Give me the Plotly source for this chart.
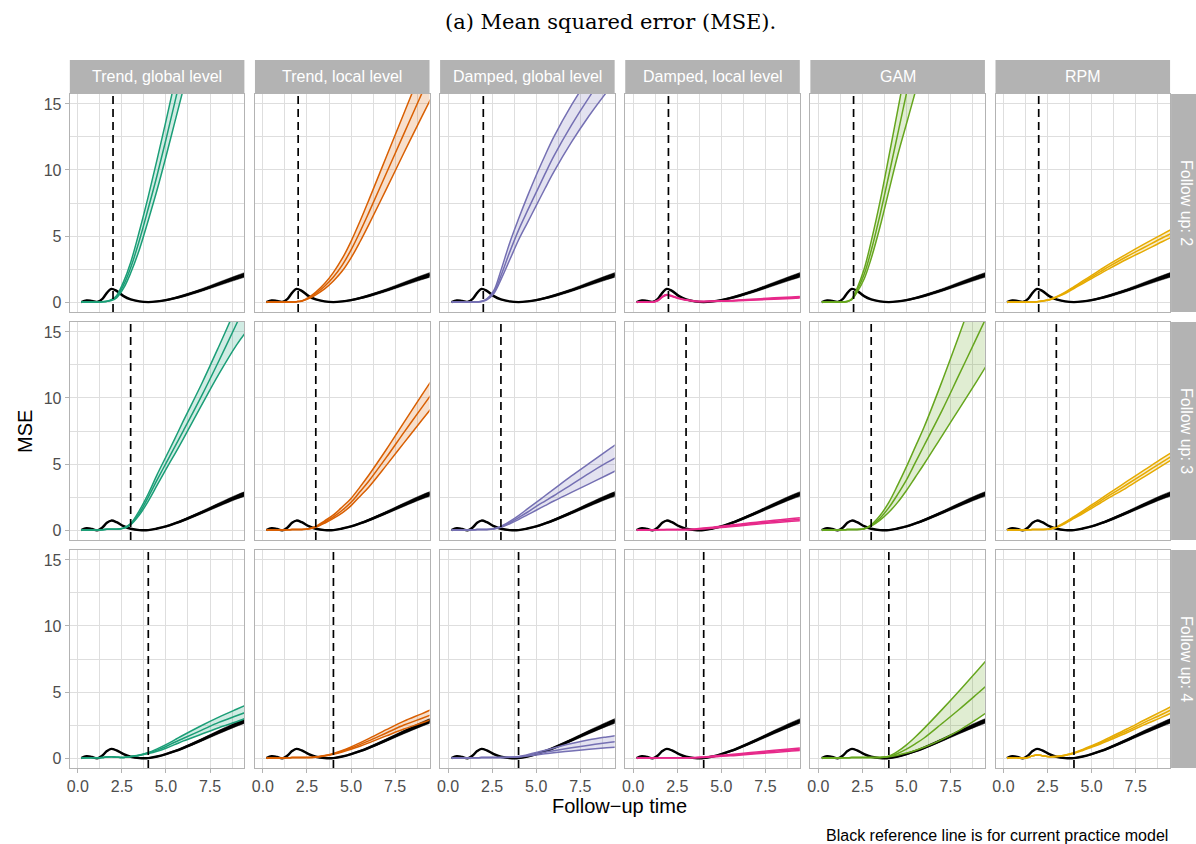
import plotly.graph_objects as go

# ---------------- data ----------------
time_grid = [0.2, 0.5, 0.8, 1.1, 1.4, 1.65, 1.9, 2.2, 2.6, 3.0, 3.5, 4.0, 4.5, 5.0, 5.5, 6.0, 7.0, 8.0, 9.0, 9.6]
model_names = ["Trend, global level", "Trend, local level", "Damped, global level",
               "Damped, local level", "GAM", "RPM"]
model_colors = ["#1B9E77", "#D95F02", "#7570B3", "#E7298A", "#66A61E", "#E6AB02"]
followups = [2, 3, 4]
x_ticks = [0, 2.5, 5, 7.5]
x_tick_labels = ["0.0", "2.5", "5.0", "7.5"]
y_ticks = [0, 5, 10, 15]
y_tick_labels = ["0", "5", "10", "15"]

# current practice (black reference) curves
ref_fu2_lo = [-0.02, 0.10, 0.06, 0.0, 0.23, 0.68, 0.98, 0.83, 0.43, 0.18, 0.03, -0.02, 0.02, 0.10, 0.24, 0.40, 0.80, 1.25, 1.69, 1.94]
ref_fu2_mid = [0.0, 0.12, 0.08, 0.02, 0.25, 0.7, 1.0, 0.85, 0.45, 0.2, 0.05, 0.0, 0.05, 0.15, 0.3, 0.48, 0.9, 1.38, 1.85, 2.12]
ref_fu2_hi = [0.02, 0.14, 0.10, 0.04, 0.27, 0.72, 1.02, 0.87, 0.47, 0.22, 0.07, 0.02, 0.08, 0.20, 0.36, 0.56, 1.0, 1.51, 2.01, 2.30]
ref_fu3_lo = [-0.02, 0.13, 0.06, -0.04, 0.18, 0.53, 0.70, 0.58, 0.28, 0.08, -0.02, -0.02, 0.09, 0.23, 0.44, 0.67, 1.22, 1.79, 2.34, 2.62]
ref_fu3_mid = [0.0, 0.15, 0.08, -0.02, 0.2, 0.55, 0.72, 0.6, 0.3, 0.1, 0.0, 0.0, 0.12, 0.28, 0.5, 0.75, 1.32, 1.92, 2.5, 2.8]
ref_fu3_hi = [0.02, 0.17, 0.10, 0.0, 0.22, 0.57, 0.74, 0.62, 0.32, 0.12, 0.02, 0.02, 0.15, 0.33, 0.56, 0.83, 1.42, 2.05, 2.66, 2.98]
ref_fu4_lo = [-0.02, 0.13, 0.06, -0.04, 0.18, 0.51, 0.68, 0.56, 0.28, 0.08, -0.02, -0.02, 0.09, 0.25, 0.46, 0.70, 1.26, 1.84, 2.40, 2.70]
ref_fu4_mid = [0.0, 0.15, 0.08, -0.02, 0.2, 0.53, 0.7, 0.58, 0.3, 0.1, 0.0, 0.0, 0.12, 0.3, 0.52, 0.78, 1.36, 1.97, 2.56, 2.88]
ref_fu4_hi = [0.02, 0.17, 0.10, 0.0, 0.22, 0.55, 0.72, 0.60, 0.32, 0.12, 0.02, 0.02, 0.15, 0.35, 0.58, 0.86, 1.46, 2.10, 2.72, 3.06]

# follow up 2
tgl_fu2_lo = [0, 0, 0, 0, 0.02, 0.05, 0.12, 0.32, 1.05, 2.2, 4.0, 6.2, 8.5, 11.0, 13.6, 16.2, 21.5, 27, 32.5, 36]
tgl_fu2_mid = [0, 0, 0, 0, 0.02, 0.06, 0.15, 0.4, 1.3, 2.6, 4.7, 7.1, 9.6, 12.3, 15.1, 18.0, 24, 30, 36, 40]
tgl_fu2_hi = [0, 0, 0, 0, 0.02, 0.07, 0.18, 0.48, 1.55, 3.0, 5.4, 8.0, 10.8, 13.7, 16.7, 19.8, 26.5, 33, 39.5, 44]
tll_fu2_lo = [0, 0, 0, 0, 0, 0.01, 0.03, 0.07, 0.26, 0.55, 1.0, 1.6, 2.35, 3.35, 4.55, 5.85, 8.55, 11.3, 14.0, 15.6]
tll_fu2_mid = [0, 0, 0, 0, 0, 0.01, 0.03, 0.08, 0.3, 0.65, 1.2, 1.9, 2.8, 3.95, 5.3, 6.75, 9.75, 12.75, 15.75, 17.55]
tll_fu2_hi = [0, 0, 0, 0, 0, 0.01, 0.03, 0.09, 0.35, 0.75, 1.4, 2.25, 3.3, 4.6, 6.1, 7.7, 11.0, 14.3, 17.6, 19.6]
dgl_fu2_lo = [0, 0, 0, 0, 0, 0.01, 0.04, 0.17, 0.65, 1.7, 3.2, 4.7, 6.0, 7.3, 8.6, 9.85, 12.1, 14.1, 15.9, 16.9]
dgl_fu2_mid = [0, 0, 0, 0, 0, 0.01, 0.05, 0.2, 0.75, 2.0, 3.8, 5.45, 6.9, 8.3, 9.7, 11.05, 13.4, 15.5, 17.4, 18.4]
dgl_fu2_hi = [0, 0, 0, 0, 0, 0.01, 0.06, 0.24, 0.88, 2.4, 4.5, 6.3, 8.0, 9.6, 11.1, 12.5, 14.9, 17.0, 18.9, 19.9]
dll_fu2_lo = [0, 0, 0, 0, 0.1, 0.36, 0.52, 0.42, 0.26, 0.13, 0.05, 0.03, 0.04, 0.06, 0.08, 0.1, 0.16, 0.22, 0.28, 0.31]
dll_fu2_mid = [0, 0, 0, 0, 0.12, 0.4, 0.55, 0.45, 0.28, 0.15, 0.07, 0.05, 0.06, 0.08, 0.1, 0.13, 0.2, 0.27, 0.33, 0.37]
dll_fu2_hi = [0, 0, 0, 0, 0.14, 0.44, 0.58, 0.48, 0.3, 0.17, 0.09, 0.07, 0.08, 0.1, 0.12, 0.16, 0.24, 0.32, 0.38, 0.43]
gam_fu2_lo = [0, 0, 0, 0, 0.01, 0.04, 0.18, 0.75, 1.75, 3.3, 5.7, 8.4, 11.1, 13.5, 15.9, 18.4, 24.2, 30, 36, 39.5]
gam_fu2_mid = [0, 0, 0, 0, 0.01, 0.05, 0.22, 0.9, 2.1, 3.9, 6.6, 9.6, 12.7, 15.8, 19, 22.5, 29, 36, 43, 47]
gam_fu2_hi = [0, 0, 0, 0, 0.01, 0.06, 0.26, 1.05, 2.5, 4.6, 7.6, 11.0, 14.5, 18, 21.5, 25, 32, 40, 48, 52]
rpm_fu2_lo = [0, 0, 0, 0, 0, 0.01, 0.03, 0.07, 0.16, 0.36, 0.65, 1.03, 1.4, 1.78, 2.16, 2.53, 3.24, 3.9, 4.57, 4.95]
rpm_fu2_mid = [0, 0, 0, 0, 0, 0.01, 0.03, 0.08, 0.18, 0.38, 0.7, 1.1, 1.5, 1.9, 2.3, 2.7, 3.45, 4.15, 4.85, 5.25]
rpm_fu2_hi = [0, 0, 0, 0, 0, 0.01, 0.03, 0.09, 0.2, 0.4, 0.75, 1.17, 1.6, 2.02, 2.45, 2.87, 3.65, 4.4, 5.13, 5.55]

# follow up 3
tgl_fu3_lo = [0, 0.01, 0.01, 0.01, 0.03, 0.06, 0.07, 0.06, 0.13, 0.4, 1.15, 2.2, 3.4, 4.6, 5.75, 6.95, 9.4, 11.8, 14.0, 15.1]
tgl_fu3_mid = [0, 0.01, 0.01, 0.01, 0.03, 0.06, 0.07, 0.06, 0.15, 0.45, 1.3, 2.5, 3.8, 5.05, 6.3, 7.55, 10.1, 12.8, 15.6, 17.3]
tgl_fu3_hi = [0, 0.01, 0.01, 0.01, 0.03, 0.06, 0.07, 0.06, 0.17, 0.5, 1.5, 2.75, 4.2, 5.55, 6.9, 8.3, 11.0, 13.9, 16.9, 18.7]
tll_fu3_lo = [0, 0.01, 0.01, 0.01, 0.02, 0.04, 0.05, 0.05, 0.09, 0.22, 0.52, 0.88, 1.3, 1.85, 2.55, 3.25, 4.9, 6.6, 8.3, 9.3]
tll_fu3_mid = [0, 0.01, 0.01, 0.01, 0.02, 0.04, 0.05, 0.05, 0.1, 0.25, 0.6, 1.0, 1.5, 2.1, 2.9, 3.7, 5.5, 7.4, 9.25, 10.35]
tll_fu3_hi = [0, 0.01, 0.01, 0.01, 0.02, 0.04, 0.05, 0.05, 0.11, 0.28, 0.7, 1.15, 1.75, 2.4, 3.25, 4.15, 6.1, 8.15, 10.2, 11.4]
dgl_fu3_lo = [0, 0.01, 0.01, 0.01, 0.02, 0.04, 0.05, 0.05, 0.09, 0.22, 0.48, 0.8, 1.15, 1.5, 1.85, 2.2, 2.85, 3.5, 4.15, 4.55]
dgl_fu3_mid = [0, 0.01, 0.01, 0.01, 0.02, 0.04, 0.05, 0.05, 0.1, 0.25, 0.55, 0.95, 1.35, 1.8, 2.2, 2.6, 3.45, 4.3, 5.1, 5.55]
dgl_fu3_hi = [0, 0.01, 0.01, 0.01, 0.02, 0.04, 0.05, 0.05, 0.11, 0.28, 0.65, 1.1, 1.6, 2.1, 2.6, 3.1, 4.1, 5.05, 6.0, 6.55]
dll_fu3_lo = [0, 0, 0, 0, 0.01, 0.02, 0.03, 0.03, 0.03, 0.03, 0.05, 0.09, 0.14, 0.19, 0.25, 0.31, 0.44, 0.56, 0.67, 0.73]
dll_fu3_mid = [0, 0.01, 0.01, 0.01, 0.02, 0.03, 0.04, 0.04, 0.04, 0.04, 0.07, 0.12, 0.18, 0.24, 0.31, 0.38, 0.52, 0.65, 0.77, 0.84]
dll_fu3_hi = [0.01, 0.02, 0.02, 0.02, 0.03, 0.04, 0.05, 0.05, 0.05, 0.05, 0.09, 0.15, 0.22, 0.29, 0.37, 0.45, 0.6, 0.74, 0.87, 0.95]
gam_fu3_lo = [0, 0.01, 0.01, 0.01, 0.02, 0.04, 0.05, 0.05, 0.09, 0.3, 0.75, 1.35, 2.1, 3.0, 4.0, 5.0, 7.1, 9.2, 11.3, 12.6]
gam_fu3_mid = [0, 0.01, 0.01, 0.01, 0.02, 0.04, 0.05, 0.05, 0.1, 0.35, 0.9, 1.7, 2.7, 3.8, 5.1, 6.4, 9.0, 11.8, 14.6, 16.3]
gam_fu3_hi = [0, 0.01, 0.01, 0.01, 0.02, 0.04, 0.05, 0.05, 0.11, 0.4, 1.1, 2.1, 3.4, 4.8, 6.3, 7.8, 11.2, 14.8, 18.5, 20.6]
rpm_fu3_lo = [0, 0.01, 0.01, 0.01, 0.02, 0.04, 0.05, 0.05, 0.07, 0.2, 0.5, 0.88, 1.25, 1.65, 2.05, 2.45, 3.22, 4.05, 4.88, 5.38]
rpm_fu3_mid = [0, 0.01, 0.01, 0.01, 0.02, 0.04, 0.05, 0.05, 0.08, 0.22, 0.55, 0.95, 1.35, 1.78, 2.2, 2.62, 3.45, 4.3, 5.15, 5.65]
rpm_fu3_hi = [0, 0.01, 0.01, 0.01, 0.02, 0.04, 0.05, 0.05, 0.09, 0.24, 0.6, 1.02, 1.45, 1.9, 2.35, 2.8, 3.68, 4.55, 5.42, 5.92]

# follow up 4
tgl_fu4_lo = [0, 0.02, 0.02, 0.02, 0.04, 0.08, 0.1, 0.07, 0.05, 0.11, 0.2, 0.34, 0.52, 0.75, 1.02, 1.3, 1.8, 2.3, 2.75, 3.05]
tgl_fu4_mid = [0, 0.02, 0.02, 0.02, 0.04, 0.08, 0.1, 0.07, 0.05, 0.12, 0.22, 0.38, 0.6, 0.88, 1.2, 1.5, 2.1, 2.7, 3.2, 3.5]
tgl_fu4_hi = [0, 0.02, 0.02, 0.02, 0.04, 0.08, 0.1, 0.07, 0.05, 0.13, 0.24, 0.42, 0.7, 1.02, 1.38, 1.75, 2.45, 3.1, 3.7, 4.05]
tll_fu4_lo = [0, 0.01, 0.01, 0.01, 0.02, 0.04, 0.05, 0.04, 0.04, 0.07, 0.16, 0.29, 0.46, 0.67, 0.9, 1.15, 1.68, 2.2, 2.65, 2.95]
tll_fu4_mid = [0, 0.01, 0.01, 0.01, 0.02, 0.04, 0.05, 0.04, 0.04, 0.08, 0.18, 0.32, 0.52, 0.76, 1.02, 1.3, 1.9, 2.5, 3.0, 3.3]
tll_fu4_hi = [0, 0.01, 0.01, 0.01, 0.02, 0.04, 0.05, 0.04, 0.04, 0.09, 0.2, 0.35, 0.58, 0.85, 1.15, 1.47, 2.15, 2.8, 3.35, 3.7]
dgl_fu4_lo = [0, 0.01, 0.01, 0.01, 0.02, 0.03, 0.04, 0.04, 0.04, 0.05, 0.06, 0.08, 0.15, 0.23, 0.32, 0.4, 0.54, 0.67, 0.78, 0.84]
dgl_fu4_mid = [0, 0.01, 0.01, 0.01, 0.02, 0.03, 0.04, 0.04, 0.04, 0.05, 0.06, 0.1, 0.2, 0.32, 0.45, 0.56, 0.78, 0.98, 1.16, 1.26]
dgl_fu4_hi = [0, 0.01, 0.01, 0.01, 0.02, 0.03, 0.04, 0.04, 0.04, 0.05, 0.06, 0.12, 0.26, 0.42, 0.6, 0.77, 1.1, 1.38, 1.6, 1.72]
dll_fu4_lo = [0, 0, 0, 0, 0.01, 0.01, 0.01, 0.01, 0.01, 0.01, 0.02, 0.05, 0.09, 0.13, 0.17, 0.21, 0.32, 0.43, 0.53, 0.58]
dll_fu4_mid = [0, 0.01, 0.01, 0.01, 0.02, 0.02, 0.02, 0.02, 0.02, 0.02, 0.03, 0.07, 0.12, 0.17, 0.22, 0.27, 0.39, 0.51, 0.62, 0.68]
dll_fu4_hi = [0.01, 0.02, 0.02, 0.02, 0.03, 0.03, 0.03, 0.03, 0.03, 0.03, 0.04, 0.09, 0.15, 0.21, 0.27, 0.33, 0.46, 0.59, 0.71, 0.78]
gam_fu4_lo = [0, 0.01, 0.01, 0.01, 0.02, 0.03, 0.04, 0.04, 0.04, 0.04, 0.05, 0.1, 0.22, 0.38, 0.58, 0.82, 1.4, 2.1, 2.95, 3.5]
gam_fu4_mid = [0, 0.01, 0.01, 0.01, 0.02, 0.03, 0.04, 0.04, 0.04, 0.04, 0.05, 0.12, 0.35, 0.68, 1.08, 1.52, 2.6, 3.7, 4.85, 5.55]
gam_fu4_hi = [0, 0.01, 0.01, 0.01, 0.02, 0.03, 0.04, 0.04, 0.04, 0.04, 0.05, 0.15, 0.5, 1.0, 1.6, 2.25, 3.65, 5.1, 6.6, 7.5]
rpm_fu4_lo = [0, 0.03, 0.02, 0.0, 0.05, 0.17, 0.24, 0.18, 0.1, 0.11, 0.2, 0.35, 0.57, 0.82, 1.07, 1.35, 1.92, 2.53, 3.1, 3.47]
rpm_fu4_mid = [0, 0.03, 0.02, 0.0, 0.05, 0.17, 0.24, 0.18, 0.1, 0.12, 0.22, 0.38, 0.62, 0.88, 1.15, 1.45, 2.05, 2.7, 3.32, 3.72]
rpm_fu4_hi = [0, 0.03, 0.02, 0.0, 0.05, 0.17, 0.24, 0.18, 0.1, 0.13, 0.24, 0.4, 0.66, 0.94, 1.23, 1.55, 2.2, 2.88, 3.55, 3.97]

ref_series = {
    2: (ref_fu2_lo, ref_fu2_mid, ref_fu2_hi),
    3: (ref_fu3_lo, ref_fu3_mid, ref_fu3_hi),
    4: (ref_fu4_lo, ref_fu4_mid, ref_fu4_hi),
}
model_series = {
    2: [(tgl_fu2_lo, tgl_fu2_mid, tgl_fu2_hi), (tll_fu2_lo, tll_fu2_mid, tll_fu2_hi),
        (dgl_fu2_lo, dgl_fu2_mid, dgl_fu2_hi), (dll_fu2_lo, dll_fu2_mid, dll_fu2_hi),
        (gam_fu2_lo, gam_fu2_mid, gam_fu2_hi), (rpm_fu2_lo, rpm_fu2_mid, rpm_fu2_hi)],
    3: [(tgl_fu3_lo, tgl_fu3_mid, tgl_fu3_hi), (tll_fu3_lo, tll_fu3_mid, tll_fu3_hi),
        (dgl_fu3_lo, dgl_fu3_mid, dgl_fu3_hi), (dll_fu3_lo, dll_fu3_mid, dll_fu3_hi),
        (gam_fu3_lo, gam_fu3_mid, gam_fu3_hi), (rpm_fu3_lo, rpm_fu3_mid, rpm_fu3_hi)],
    4: [(tgl_fu4_lo, tgl_fu4_mid, tgl_fu4_hi), (tll_fu4_lo, tll_fu4_mid, tll_fu4_hi),
        (dgl_fu4_lo, dgl_fu4_mid, dgl_fu4_hi), (dll_fu4_lo, dll_fu4_mid, dll_fu4_hi),
        (gam_fu4_lo, gam_fu4_mid, gam_fu4_hi), (rpm_fu4_lo, rpm_fu4_mid, rpm_fu4_hi)],
}

# ---------------- layout geometry (pixels) ----------------
W, H = 1196, 844
col_left = [67 + 185.6 * c for c in range(6)]
panel_w = 175
row_top = [94, 322, 550]
panel_h = 218
strip_h = 34
FONT = "Liberation Sans, Arial, Helvetica, sans-serif"
GRID = "#dedede"
BORDER = "#b3b3b3"


def px_x(p):
    return p / W


def px_y(p):
    return 1 - p / H


def rgba(hexc, a):
    hexc = hexc.lstrip("#")
    r, g, b = int(hexc[0:2], 16), int(hexc[2:4], 16), int(hexc[4:6], 16)
    return f"rgba({r},{g},{b},{a})"


fig = go.Figure()
layout = dict(
    width=W, height=H, margin=dict(l=0, r=0, t=0, b=0),
    paper_bgcolor="white", plot_bgcolor="white", showlegend=False,
    font=dict(family=FONT, size=16, color="#4d4d4d"),
)
shapes = []
annotations = []

for r, fu in enumerate(followups):
    for c in range(6):
        k = r * 6 + c + 1
        xa = "x" if k == 1 else f"x{k}"
        ya = "y" if k == 1 else f"y{k}"
        xkey = "xaxis" if k == 1 else f"xaxis{k}"
        ykey = "yaxis" if k == 1 else f"yaxis{k}"
        left = col_left[c]
        top = row_top[r]
        bottom_row = (r == len(followups) - 1)
        left_col = (c == 0)
        layout[xkey] = dict(
            domain=[px_x(left), px_x(left + panel_w)], anchor=ya,
            range=[-0.45, 9.45], tickmode="array", tickvals=x_ticks,
            ticktext=x_tick_labels, showticklabels=bottom_row,
            ticks="outside" if bottom_row else "", ticklen=4, tickcolor=BORDER, tickwidth=1,
            showgrid=True, gridcolor=GRID, gridwidth=1.1, zeroline=False,
            showline=True, linecolor=BORDER, linewidth=1.4, mirror=True,
            minor=dict(tickmode="array", tickvals=[1.25, 3.75, 6.25, 8.75], showgrid=True,
                       gridcolor=GRID, gridwidth=0.6, ticks=""),
            tickfont=dict(size=16, color="#4d4d4d", family=FONT),
            fixedrange=True,
        )
        layout[ykey] = dict(
            domain=[px_y(top + panel_h), px_y(top)], anchor=xa,
            range=[-0.75, 15.75], tickmode="array", tickvals=y_ticks,
            ticktext=y_tick_labels, showticklabels=left_col,
            ticks="outside" if left_col else "", ticklen=4, tickcolor=BORDER, tickwidth=1,
            showgrid=True, gridcolor=GRID, gridwidth=1.1, zeroline=False,
            showline=True, linecolor=BORDER, linewidth=1.4, mirror=True,
            minor=dict(tickmode="array", tickvals=[2.5, 7.5, 12.5], showgrid=True,
                       gridcolor=GRID, gridwidth=0.6, ticks=""),
            tickfont=dict(size=16, color="#4d4d4d", family=FONT),
            fixedrange=True,
        )

        # black reference ribbon + line
        rlo, rmid, rhi = ref_series[fu]
        fig.add_trace(go.Scatter(x=time_grid, y=rlo, mode="lines", xaxis=xa, yaxis=ya,
                                 line=dict(color="black", width=0.5, shape="spline"),
                                 hoverinfo="skip"))
        fig.add_trace(go.Scatter(x=time_grid, y=rhi, mode="lines", xaxis=xa, yaxis=ya,
                                 line=dict(color="black", width=0.5, shape="spline"),
                                 fill="tonexty", fillcolor="black", hoverinfo="skip"))
        fig.add_trace(go.Scatter(x=time_grid, y=rmid, mode="lines", xaxis=xa, yaxis=ya,
                                 line=dict(color="black", width=2.4, shape="spline"),
                                 hoverinfo="skip"))

        # model ribbon + three lines
        lo, mid, hi = model_series[fu][c]
        col = model_colors[c]
        fig.add_trace(go.Scatter(x=time_grid, y=lo, mode="lines", xaxis=xa, yaxis=ya,
                                 line=dict(color=col, width=1.5, shape="spline"),
                                 hoverinfo="skip"))
        fig.add_trace(go.Scatter(x=time_grid, y=hi, mode="lines", xaxis=xa, yaxis=ya,
                                 line=dict(color=col, width=1.5, shape="spline"),
                                 fill="tonexty", fillcolor=rgba(col, 0.2), hoverinfo="skip"))
        fig.add_trace(go.Scatter(x=time_grid, y=mid, mode="lines", xaxis=xa, yaxis=ya,
                                 line=dict(color=col, width=1.5, shape="spline"),
                                 hoverinfo="skip"))

        # dashed follow-up line
        shapes.append(dict(type="line", xref=xa, yref=f"{ya} domain", x0=fu, x1=fu,
                           y0=0, y1=1, line=dict(color="black", width=1.7, dash="8px,5px"),
                           layer="above"))

# column strips
for c, name in enumerate(model_names):
    left = col_left[c]
    shapes.append(dict(type="rect", xref="paper", yref="paper",
                       x0=px_x(left), x1=px_x(left + panel_w),
                       y0=px_y(row_top[0]), y1=px_y(row_top[0] - strip_h),
                       fillcolor=BORDER, line=dict(width=0), layer="below"))
    annotations.append(dict(text=name, xref="paper", yref="paper",
                            x=px_x(left + panel_w / 2), y=px_y(row_top[0] - strip_h / 2),
                            showarrow=False, xanchor="center", yanchor="middle",
                            font=dict(family=FONT, size=16, color="white")))

# row strips
for r, fu in enumerate(followups):
    top = row_top[r]
    shapes.append(dict(type="rect", xref="paper", yref="paper",
                       x0=px_x(1171), x1=px_x(1205),
                       y0=px_y(top + panel_h), y1=px_y(top),
                       fillcolor=BORDER, line=dict(width=0), layer="below"))
    annotations.append(dict(text=f"Follow up: {fu}", xref="paper", yref="paper",
                            x=px_x(1187), y=px_y(top + panel_h / 2), textangle=90,
                            showarrow=False, xanchor="center", yanchor="middle",
                            font=dict(family=FONT, size=16, color="white")))

# titles
annotations.append(dict(text="(a) Mean squared error (MSE).", xref="paper", yref="paper",
                        x=px_x(609), y=px_y(22), showarrow=False, xanchor="center",
                        yanchor="middle",
                        font=dict(family="DejaVu Serif, Liberation Serif, serif", size=21,
                                  color="black")))
annotations.append(dict(text="MSE", xref="paper", yref="paper", x=px_x(22), y=px_y(431),
                        textangle=-90, showarrow=False, xanchor="center", yanchor="middle",
                        font=dict(family=FONT, size=20, color="black")))
annotations.append(dict(text="Follow\u2212up time", xref="paper", yref="paper",
                        x=px_x(618.5), y=px_y(806), showarrow=False, xanchor="center",
                        yanchor="middle", font=dict(family=FONT, size=20, color="black")))
annotations.append(dict(text="Black reference line is for current practice model",
                        xref="paper", yref="paper", x=px_x(1170), y=px_y(835),
                        showarrow=False, xanchor="right", yanchor="middle",
                        font=dict(family=FONT, size=16, color="black")))

layout["shapes"] = shapes
layout["annotations"] = annotations
fig.update_layout(**layout)
fig.write_html("out.html", config={"displayModeBar": False})
